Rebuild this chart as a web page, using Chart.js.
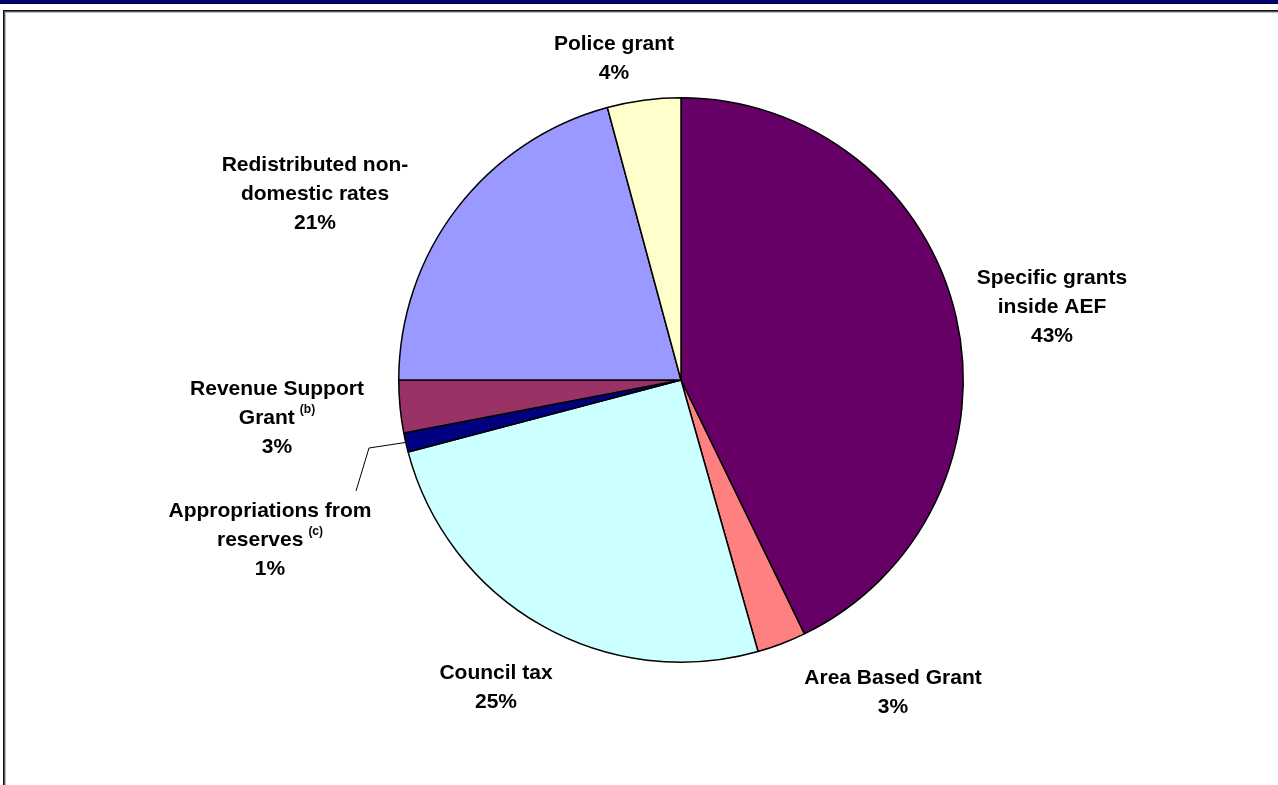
<!DOCTYPE html>
<html>
<head>
<meta charset="utf-8">
<script src="https://cdn.jsdelivr.net/npm/chart.js@4.4.0/dist/chart.umd.min.js"></script>
<style>
  html, body { margin: 0; padding: 0; background: #fff; }
  #wrap { position: relative; width: 1278px; height: 785px; }
</style>
</head>
<body>
<div id="wrap"><canvas id="pie"></canvas></div>
<script>
// slices, clockwise from 12 o'clock
const categories = [
  'Specific grants inside AEF',
  'Area Based Grant',
  'Council tax',
  'Appropriations from reserves',
  'Revenue Support Grant',
  'Redistributed non-domestic rates',
  'Police grant',
]
const shares = [42.8, 2.8, 25.3, 1.1, 3.0, 20.8, 4.2]
const labelLines = [
  ['Specific grants', 'inside AEF'],
  ['Area Based Grant'],
  ['Council tax'],
  ['Appropriations from', 'reserves'],
  ['Revenue Support', 'Grant'],
  ['Redistributed non-', 'domestic rates'],
  ['Police grant'],
]
const footnotes = ['', '', '', '(c)', '(b)', '', '']
const sliceColors = ['#660066', '#FF8080', '#CCFFFF', '#000080', '#993366', '#9999FF', '#FFFFCC']

// label block centres, relative to the pie centre
const labelOffsets = [[371, -73], [212, 313], [-185, 308], [-411, 160], [-404, 38], [-366, -186], [-67, -321]]
const leaderIndex = 3
const leaderPts = [[-312, 68], [-325, 111]]

const FONT = 'bold 21px "Liberation Sans", Arial, sans-serif'
const SUP_FONT = 'bold 12px "Liberation Sans", Arial, sans-serif'
const LINE_H = 29

const framePlugin = {
  id: 'frame',
  beforeDraw(chart) {
    const { ctx, width, height } = chart
    ctx.save()
    ctx.fillStyle = '#000080'
    ctx.fillRect(0, 0, width, 3)
    ctx.fillStyle = '#000'
    ctx.fillRect(0, 3, width, 1)
    ctx.fillStyle = '#111'
    ctx.fillRect(3, 10, width - 3, 1)
    ctx.fillRect(3, 10, 1, height - 10)
    ctx.fillStyle = '#555'
    ctx.fillRect(4, 11, width - 4, 1)
    ctx.fillRect(4, 11, 1, height - 11)
    ctx.fillStyle = '#bbb'
    ctx.fillRect(5, 12, width - 5, 1)
    ctx.fillRect(5, 12, 1, height - 12)
    ctx.restore()
  },
}

const labelPlugin = {
  id: 'sliceLabels',
  afterDatasetsDraw(chart) {
    const { ctx } = chart
    const arcs = chart.getDatasetMeta(0).data
    ctx.save()
    ctx.fillStyle = '#000'
    ctx.textBaseline = 'middle'

    arcs.forEach((arc, i) => {
      const cx = arc.x + labelOffsets[i][0]
      const cy = arc.y + labelOffsets[i][1]
      const lines = [...labelLines[i], Math.round(shares[i]) + '%']
      const top = cy - (lines.length - 1) * LINE_H / 2
      lines.forEach((txt, k) => {
        const y = top + k * LINE_H
        const sup = (k === labelLines[i].length - 1) ? footnotes[i] : ''
        ctx.font = FONT
        const w = ctx.measureText(txt).width
        let supW = 0
        if (sup) {
          ctx.font = SUP_FONT
          supW = ctx.measureText(sup).width + 5
        }
        const x0 = cx - (w + supW) / 2
        ctx.textAlign = 'left'
        ctx.font = FONT
        ctx.fillText(txt, x0, y)
        if (sup) {
          ctx.font = SUP_FONT
          ctx.fillText(sup, x0 + w + 5, y - 8)
        }
      })
    })

    // leader line for the small reserves slice
    const a = arcs[leaderIndex]
    const mid = (a.startAngle + a.endAngle) / 2
    ctx.strokeStyle = '#000'
    ctx.lineWidth = 1
    ctx.beginPath()
    ctx.moveTo(a.x + Math.cos(mid) * a.outerRadius, a.y + Math.sin(mid) * a.outerRadius)
    ctx.lineTo(a.x + leaderPts[0][0], a.y + leaderPts[0][1])
    ctx.lineTo(a.x + leaderPts[1][0], a.y + leaderPts[1][1])
    ctx.stroke()
    ctx.restore()
  },
}

new Chart(document.getElementById('pie'), {
  type: 'pie',
  data: {
    labels: categories,
    datasets: [{
      data: shares,
      backgroundColor: sliceColors,
      borderColor: '#000',
      borderWidth: 1.5,
    }],
  },
  options: {
    responsive: true,
    maintainAspectRatio: false,
    animation: false,
    layout: { padding: { top: 97, bottom: 122, left: 398, right: 314 } },
    plugins: { legend: { display: false }, tooltip: { enabled: false } },
  },
  plugins: [framePlugin, labelPlugin],
})
</script>
</body>
</html>
